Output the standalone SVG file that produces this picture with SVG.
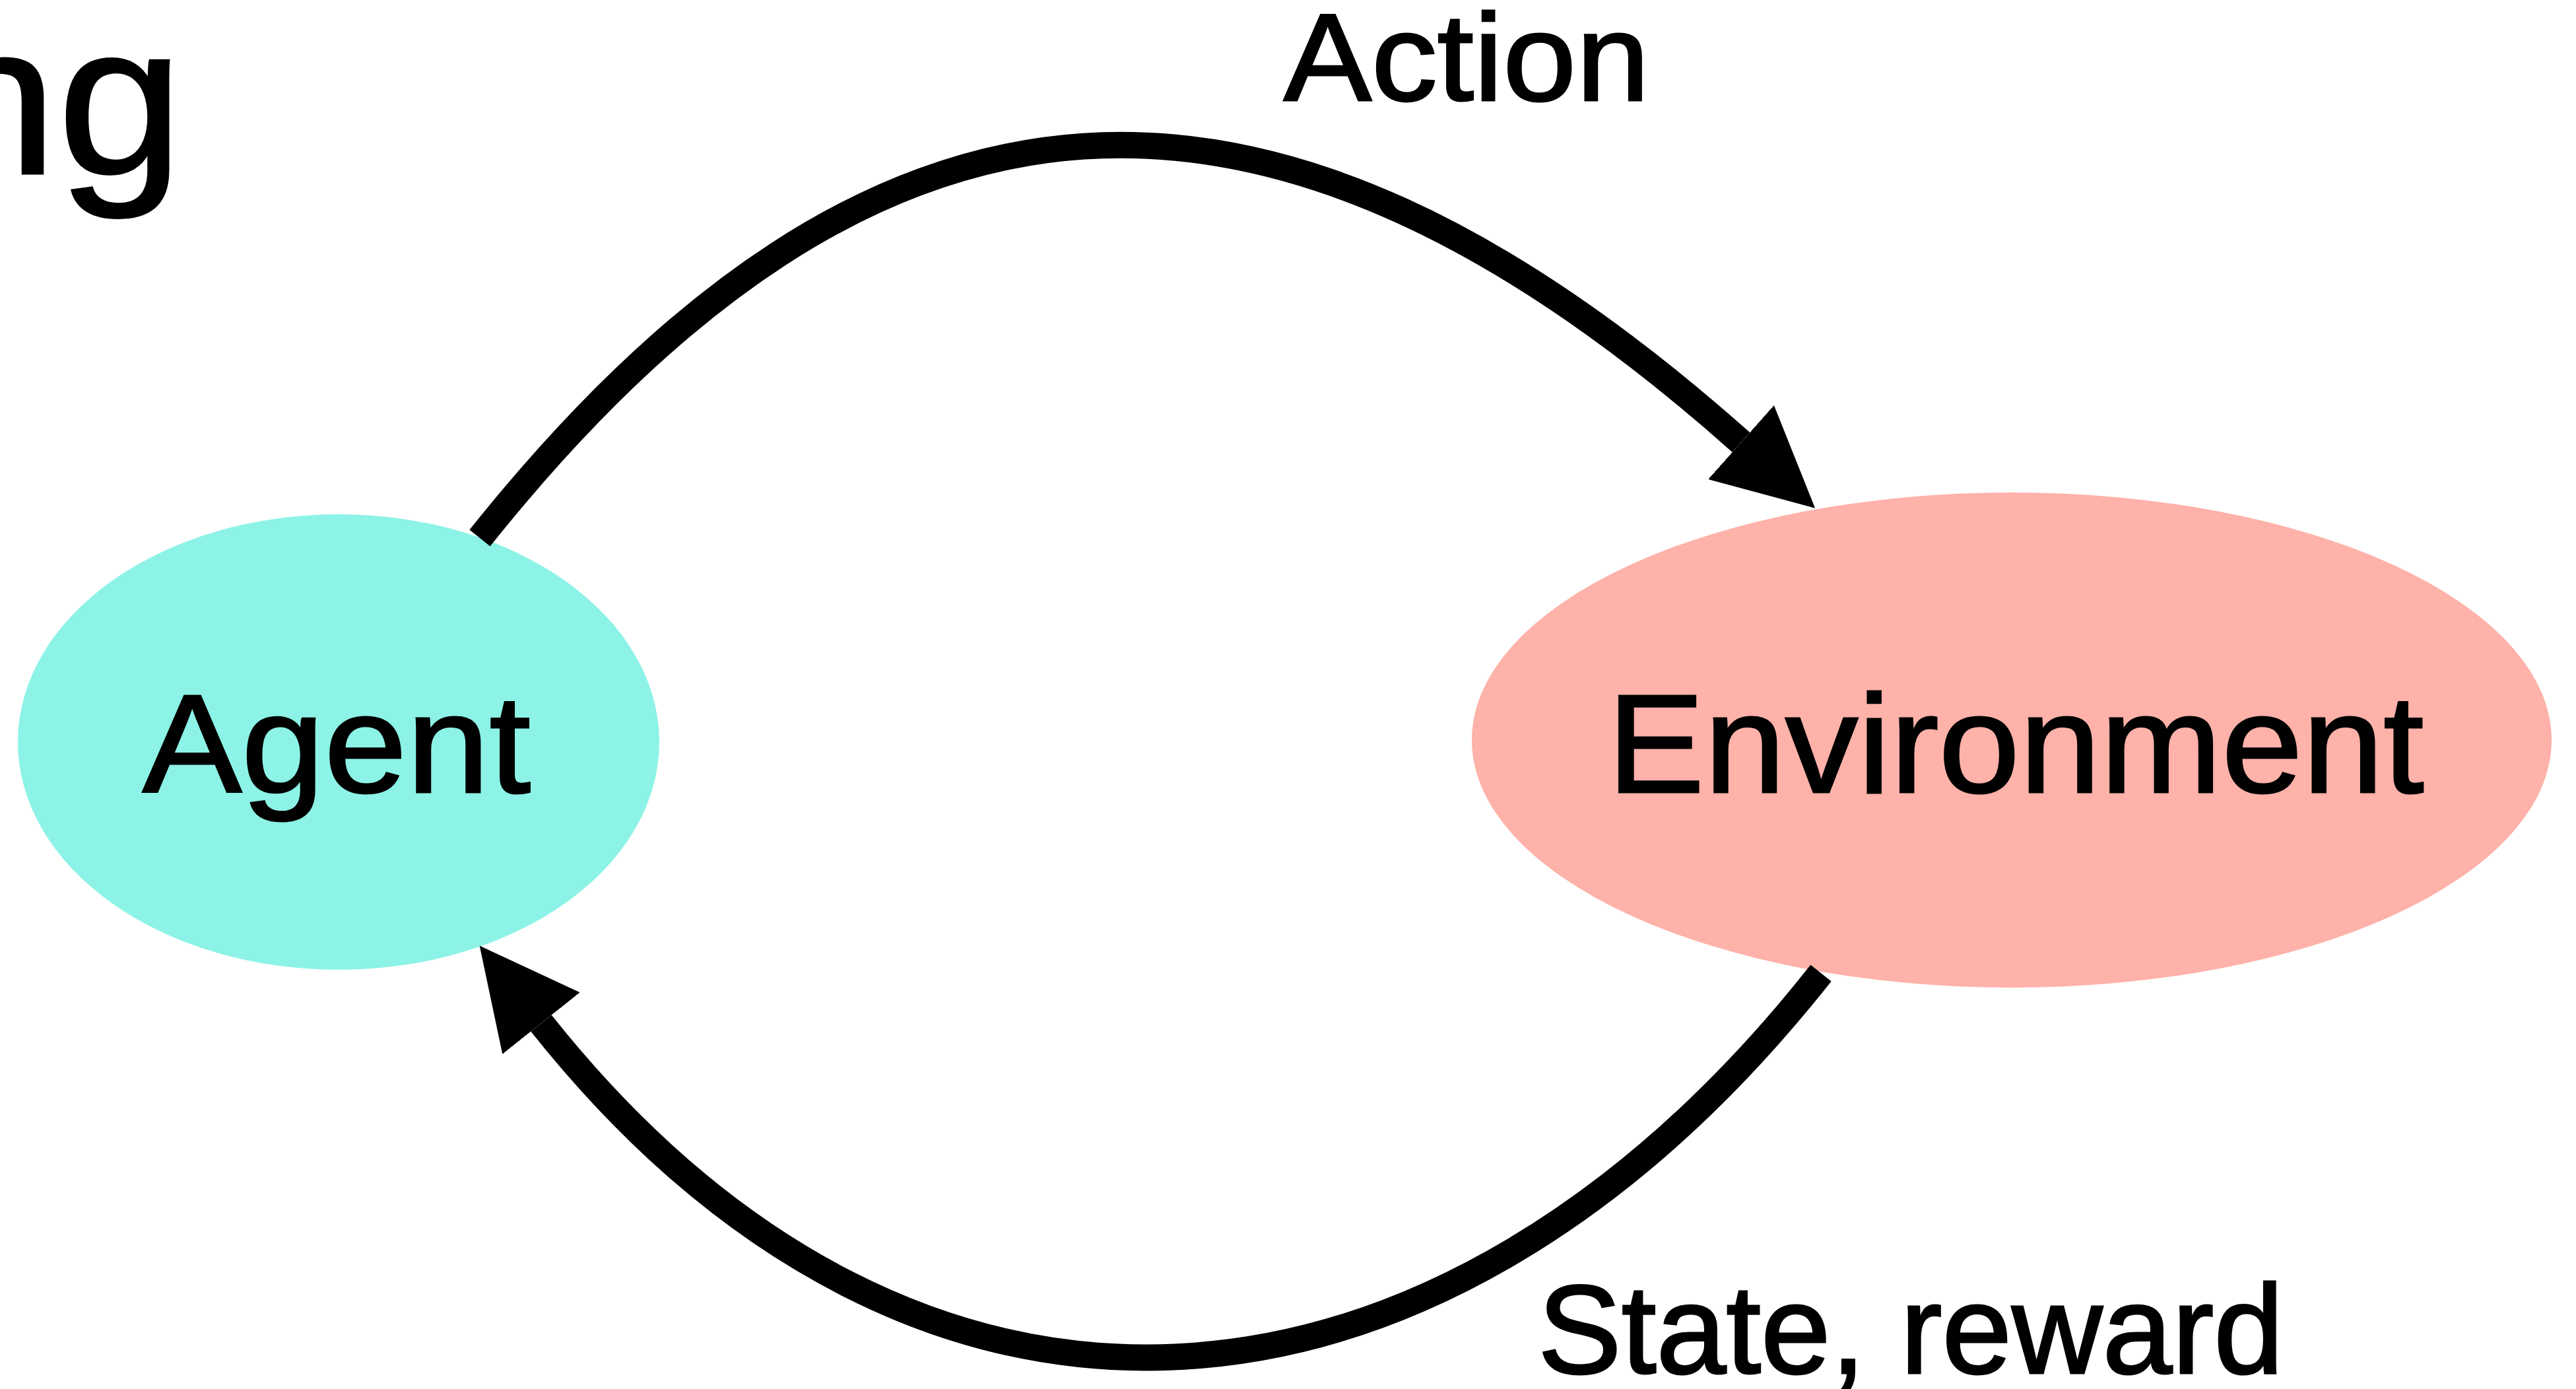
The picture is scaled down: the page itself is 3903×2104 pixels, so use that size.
<svg xmlns="http://www.w3.org/2000/svg" width="3903" height="2104" viewBox="0 0 3903 2104">
  <style>
    .lbl { font-family: "Liberation Sans", Arial, Helvetica, sans-serif; fill: #000000; stroke: #000000; stroke-width: 3; stroke-linejoin: miter; }
    .conn { fill: none; stroke: #000000; stroke-width: 40; stroke-linecap: butt; }
  </style>
  <defs>
    <marker id="ah" markerUnits="userSpaceOnUse" markerWidth="150" markerHeight="150" viewBox="0 0 150 150" refX="0" refY="75" orient="auto">
      <path d="M0,0 L150,75 L0,150 Z" fill="#000000"/>
    </marker>
  </defs>
  <rect x="0" y="0" width="3903" height="2104" fill="#ffffff"/>

  <text class="lbl" x="-104" y="263" font-size="325" textLength="382" lengthAdjust="spacingAndGlyphs">ng</text>

  <g id="agent">
    <ellipse cx="513" cy="1124" rx="486" ry="345" fill="#8DF3E6"/>
    <text class="lbl" x="510" y="1200" font-size="212" text-anchor="middle" textLength="588" lengthAdjust="spacingAndGlyphs">Agent</text>
  </g>

  <g id="environment">
    <ellipse cx="3048" cy="1121" rx="818" ry="375" fill="#FEB2A9"/>
    <text class="lbl" x="3054" y="1200" font-size="212" text-anchor="middle" textLength="1237" lengthAdjust="spacingAndGlyphs">Environment</text>
  </g>

  <g id="connectors">
    <path class="conn" d="M727,815 C1330,60 1925,36 2638,670" marker-end="url(#ah)"/>
    <path class="conn" d="M2759,1474 C2186,2199 1395,2273 820,1550" marker-end="url(#ah)"/>
    <text class="lbl" x="2222" y="152" font-size="187" text-anchor="middle" textLength="554" lengthAdjust="spacingAndGlyphs">Action</text>
    <text class="lbl" x="2895" y="2080" font-size="191" text-anchor="middle" textLength="1130" lengthAdjust="spacingAndGlyphs">State, reward</text>
  </g>
</svg>
